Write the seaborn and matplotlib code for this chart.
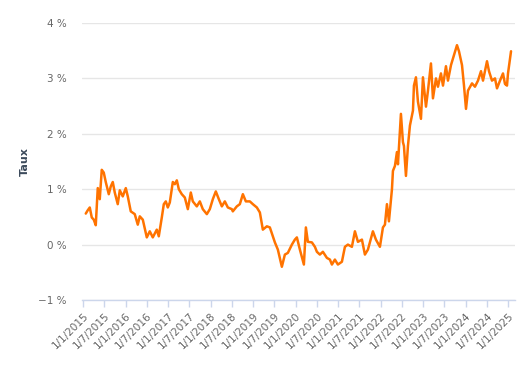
import numpy as np
import pandas as pd
import matplotlib
matplotlib.use("Agg")
import matplotlib.pyplot as plt
import seaborn as sns

# Decimal-year positions and rate values (%)
years = [
    2015.064, 2015.111, 2015.158, 2015.205, 2015.252, 2015.299, 2015.346, 2015.393,
    2015.440, 2015.487, 2015.534, 2015.605, 2015.652, 2015.699, 2015.746, 2015.816,
    2015.864, 2015.934, 2016.005, 2016.052, 2016.122, 2016.216, 2016.287, 2016.334,
    2016.405, 2016.499, 2016.569, 2016.640, 2016.734, 2016.781, 2016.852, 2016.899,
    2016.946, 2016.993, 2017.040, 2017.111, 2017.158, 2017.205, 2017.252, 2017.322,
    2017.393, 2017.464, 2017.534, 2017.581, 2017.675, 2017.746, 2017.816, 2017.911,
    2017.981, 2018.052, 2018.122, 2018.193, 2018.264, 2018.334, 2018.405, 2018.499,
    2018.522, 2018.616, 2018.687, 2018.758, 2018.828, 2018.922, 2018.993, 2019.087,
    2019.158, 2019.228, 2019.322, 2019.393, 2019.511, 2019.581, 2019.675, 2019.746,
    2019.816, 2019.911, 2019.981, 2020.028, 2020.099, 2020.193, 2020.240, 2020.287,
    2020.381, 2020.452, 2020.499, 2020.569, 2020.640, 2020.734, 2020.805, 2020.852,
    2020.922, 2020.993, 2021.087, 2021.158, 2021.228, 2021.322, 2021.393, 2021.464,
    2021.558, 2021.628, 2021.699, 2021.816, 2021.887, 2021.981, 2022.052, 2022.099,
    2022.146, 2022.193, 2022.264, 2022.287, 2022.334, 2022.381, 2022.405, 2022.475,
    2022.522, 2022.546, 2022.593, 2022.640, 2022.687, 2022.758, 2022.781, 2022.828,
    2022.875, 2022.946, 2022.993, 2023.064, 2023.111, 2023.181, 2023.228, 2023.299,
    2023.346, 2023.416, 2023.464, 2023.534, 2023.581, 2023.652, 2023.699, 2023.793,
    2023.840, 2023.911, 2023.958, 2024.005, 2024.052, 2024.146, 2024.216, 2024.287,
    2024.358, 2024.405, 2024.499, 2024.546, 2024.616, 2024.687, 2024.734, 2024.805,
    2024.875, 2024.922, 2024.969, 2024.993, 2025.064,
]
taux = [
    0.56, 0.62, 0.67, 0.49, 0.45, 0.35, 1.02, 0.82,
    1.35, 1.30, 1.13, 0.91, 1.05, 1.13, 0.94, 0.73,
    0.98, 0.87, 1.02, 0.87, 0.60, 0.55, 0.36, 0.51,
    0.45, 0.13, 0.24, 0.13, 0.27, 0.15, 0.49, 0.73,
    0.78, 0.67, 0.76, 1.13, 1.09, 1.16, 1.00, 0.91,
    0.85, 0.64, 0.94, 0.78, 0.69, 0.78, 0.64, 0.55,
    0.64, 0.82, 0.96, 0.82, 0.69, 0.78, 0.67, 0.64,
    0.60, 0.69, 0.73, 0.91, 0.78, 0.78, 0.73, 0.67,
    0.58, 0.27, 0.33, 0.31, 0.04, -0.09, -0.40, -0.18,
    -0.15, 0.00, 0.09, 0.13, -0.09, -0.36, 0.31, 0.05,
    0.04, -0.04, -0.13, -0.18, -0.13, -0.24, -0.27, -0.36,
    -0.27, -0.36, -0.31, -0.04, 0.00, -0.04, 0.24, 0.05,
    0.09, -0.18, -0.09, 0.24, 0.09, -0.04, 0.31, 0.36,
    0.73, 0.42, 1.00, 1.33, 1.42, 1.67, 1.45, 2.36,
    1.85, 1.78, 1.24, 1.78, 2.15, 2.42, 2.87, 3.02,
    2.58, 2.27, 3.02, 2.49, 2.78, 3.27, 2.64, 3.00,
    2.85, 3.09, 2.87, 3.22, 2.96, 3.24, 3.36, 3.60,
    3.49, 3.24, 2.87, 2.45, 2.78, 2.91, 2.85, 2.96,
    3.13, 2.96, 3.31, 3.13, 2.96, 3.00, 2.82, 2.96,
    3.09, 2.90, 2.87, 3.09, 3.49,
]
tick_dates = [f"{y}-{m:02d}-01" for y in range(2015, 2026) for m in (1, 7)][:-1]
tick_labels = [f"1/{m}/{y}" for y in range(2015, 2026) for m in (1, 7)][:-1]
y_ticks = [-1, 0, 1, 2, 3, 4]
y_tick_labels = ["\u22121 %", "0 %", "1 %", "2 %", "3 %", "4 %"]

base = pd.Timestamp("2015-01-01")
dates = [base + pd.Timedelta(days=(y - 2015) * 365.25) for y in years]
df = pd.DataFrame({"date": dates, "taux": taux})

sns.set_theme(style="white")
plt.rcParams["font.family"] = ["DejaVu Sans"]

fig = plt.figure(figsize=(5.27, 3.75), dpi=100)
ax = fig.add_axes([82 / 527, 75 / 375, (515 - 82) / 527, (300 - 23) / 375])

sns.lineplot(data=df, x="date", y="taux", ax=ax, color="#ff7300", linewidth=1.8)

ax.set_ylim(-1, 4)
ax.set_xlim(pd.Timestamp("2014-12-23"), pd.Timestamp("2025-02-27"))
ax.set_yticks(y_ticks)
ax.set_yticklabels(y_tick_labels, color="#666666", fontsize=7.5)
ax.yaxis.grid(True, color="#e6e6e6", linewidth=1)
ax.tick_params(axis="y", length=0, pad=11)

ax.set_xticks(pd.to_datetime(tick_dates))
ax.set_xticklabels(tick_labels, rotation=45, ha="right", rotation_mode="anchor",
                   color="#666666", fontsize=7.5)
ax.tick_params(axis="x", direction="out", length=5, width=1, color="#ccd6eb",
               bottom=True, pad=3)

for s in ("top", "right", "left"):
    ax.spines[s].set_visible(False)
ax.spines["bottom"].set_color("#ccd6eb")
ax.spines["bottom"].set_linewidth(1)

ax.set_xlabel("")
ax.set_ylabel("Taux", fontsize=8, fontweight="bold", color="#3d4b5c")
ax.yaxis.set_label_coords((30 - 82) / 433, 0.5)

fig.savefig("out.png", dpi=100)
